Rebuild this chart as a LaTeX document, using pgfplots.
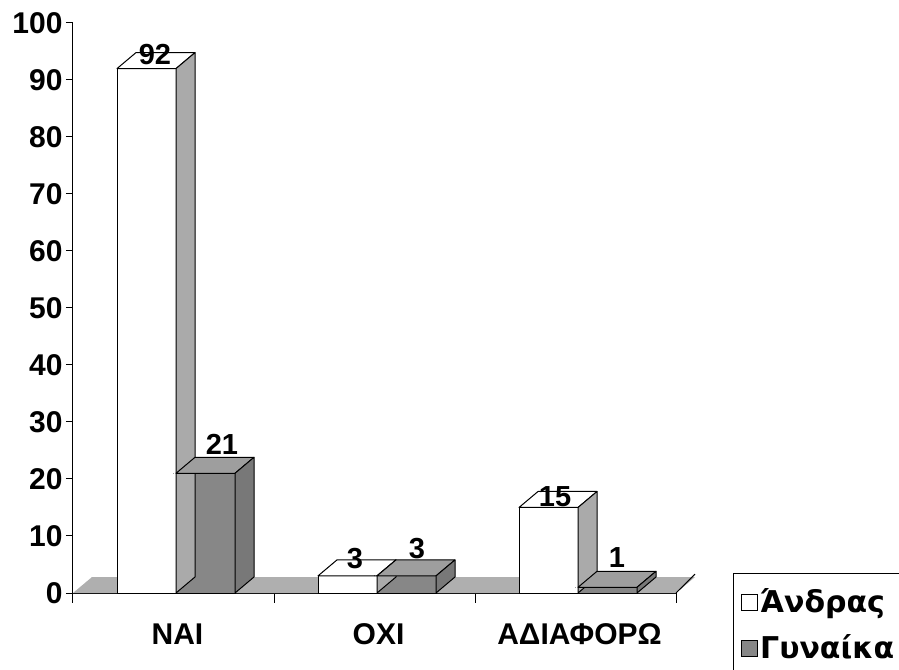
\documentclass[border=0pt]{standalone}
\usepackage{fontspec}
\setmainfont{Liberation Sans}
\newfontfamily\legfont{DejaVu Sans}
\usepackage{pgfplots}
\pgfplotsset{compat=1.18}
\usepackage{pgfplotstable}

\definecolor{gfront}{RGB}{135,135,135}
\definecolor{gtop}{RGB}{158,158,158}
\definecolor{gside}{RGB}{120,120,120}
\definecolor{wside}{RGB}{170,170,170}
\definecolor{floorc}{RGB}{175,175,175}

\pgfplotstableread{
x y dx dy
0 92 -18.5 14.5
1 3 -19.5 17
2 15 -20.5 11
}\men
\pgfplotstableread{
x y dx dy
0 21 48.5 29
1 3 42.5 27
2 1 41.5 30
}\women

\pgfplotsset{
  deco/.style n args={3}{%
    only marks, scatter, mark=*, mark size=0.01pt,
    mark options={draw=none,fill=none},
    visualization depends on={\thisrow{y}\as\bary},
    scatter/@pre marker code/.code={%
      \pgfmathsetmacro\hh{\bary*5.7}%
      \pgfmathsetmacro\xa{#1-29.5}%
      \pgfmathsetmacro\xb{#1+29.5}%
      \pgfmathsetmacro\xc{#1+48.5}%
      \pgfmathsetmacro\xd{#1-10.5}%
      \pgfmathsetmacro\yb{16-\hh}%
      \filldraw[fill=#2,draw=black,line width=1pt,line join=round] (\xa pt,0pt) -- (\xb pt,0pt) -- (\xc pt,16pt) -- (\xd pt,16pt) -- cycle;
      \filldraw[fill=#3,draw=black,line width=1pt,line join=round] (\xb pt,0pt) -- (\xc pt,16pt) -- (\xc pt,\yb pt) -- (\xb pt,-\hh pt) -- cycle;
    },
    scatter/@post marker code/.code={},
    forget plot,
  },
  lab/.style={
    nodes near coords,
    visualization depends on={\thisrow{dx}\as\labdx},
    visualization depends on={\thisrow{dy}\as\labdy},
    every node near coord/.append style={anchor=center, xshift=\labdx pt, yshift=\labdy pt,
      font=\fontsize{29}{30}\selectfont\bfseries, inner sep=0pt, text=black},
  },
  boxlegend/.style={legend image code/.code={\draw[##1,line width=0.8pt] (2pt,-9pt) rectangle (18pt,7pt);}},
}

\begin{document}
\begin{tikzpicture}
\useasboundingbox (0pt,0pt) rectangle (899pt,669pt);
\begin{axis}[
  at={(73pt,76pt)}, anchor=south west,
  scale only axis, width=603pt, height=570pt,
  xmin=-0.5, xmax=2.5, ymin=0, ymax=100,
  clip=false,
  axis lines*=left, axis line style={line width=1pt},
  ytick={0,10,...,100},
  xtick={0,1,2}, xticklabels={ΝΑΙ,ΟΧΙ,ΑΔΙΑΦΟΡΩ},
  minor xtick={-0.5,0.5,1.5,2.5},
  major x tick style={draw=none},
  tick align=outside,
  major tick length=7pt, minor tick length=10pt,
  tick style={line width=1pt, black},
  ticklabel style={font=\fontsize{30}{30}\selectfont\bfseries},
  xticklabel style={yshift=-20pt, xshift=4pt},
  /pgf/number format/assume math mode=true,
  legend style={at={(1.0945,0.0351)}, anchor=north west, draw=black, thick,
    font=\fontsize{30}{32}\selectfont\legfont\bfseries, inner xsep=8pt, inner ysep=13pt,
    row sep=17pt},
  legend cell align=left,
]
\addplot[fill=floorc, draw=none, forget plot] coordinates {(-0.5,0) (2.5,0) (2.5945,2.8) (-0.4055,2.8)} -- cycle;
\addplot[black, line width=1pt, forget plot] coordinates {(2.5,0) (2.5945,3.3)};

\addplot[deco={-27}{white}{wside}] table[x=x,y=y]{\men};
\addplot[ybar, bar width=59pt, bar shift=-27pt, fill=white, draw=black, line width=1pt, boxlegend, lab] table[x=x,y=y]{\men};
\addlegendentry{Άνδρας\hspace*{20pt}}
\addplot[deco={32}{gtop}{gside}] table[x=x,y=y]{\women};
\addplot[ybar, bar width=59pt, bar shift=32pt, fill=gfront, draw=black, line width=1pt, boxlegend, lab] table[x=x,y=y]{\women};
\addlegendentry{Γυναίκα\hspace*{20pt}}
\end{axis}
\end{tikzpicture}
\end{document}
